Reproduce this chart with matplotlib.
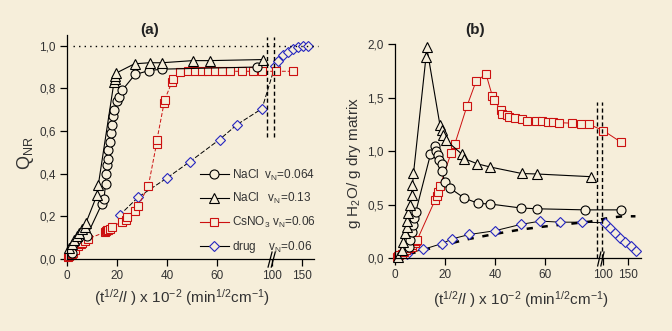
import numpy as np
import matplotlib
matplotlib.use('Agg')
import matplotlib.pyplot as plt
from matplotlib.ticker import FixedLocator, FuncFormatter
from matplotlib.lines import Line2D

plt.rcParams['font.family'] = ['Liberation Sans', 'DejaVu Sans']
plt.rcParams['mathtext.fontset'] = 'custom'
plt.rcParams['mathtext.rm'] = 'Liberation Sans'
plt.rcParams['mathtext.it'] = 'Liberation Sans:italic'
plt.rcParams['mathtext.bf'] = 'Liberation Sans:bold'

BG = '#F6EEDA'
RED = '#CC1010'
BLUE = '#2626C0'
TXT = '#333333'

# ---------------- panel (a) data ----------------
a_nacl064_x = [2, 8, 14.0, 14.8, 15.4, 15.6, 15.9, 16.2, 16.5, 17.0, 17.5, 18.0, 18.5, 18.9, 19.9, 20.7, 22.0, 27.2, 32.8, 37.8, 76]
a_nacl064_y = [0.03, 0.11, 0.26, 0.28, 0.35, 0.40, 0.44, 0.47, 0.51, 0.55, 0.59, 0.63, 0.67, 0.70, 0.74, 0.76, 0.79, 0.865, 0.883, 0.89, 0.90]

a_nacl13_x = [1, 2, 3, 4, 5, 6, 7, 7.6, 12.0, 12.5, 18.8, 19.0, 19.2, 19.4, 27, 33, 38, 50.3, 57, 78.5]
a_nacl13_y = [0.05, 0.07, 0.09, 0.11, 0.12, 0.14, 0.15, 0.17, 0.30, 0.345, 0.83, 0.845, 0.86, 0.87, 0.915, 0.92, 0.92, 0.93, 0.93, 0.935]

a_csno3_x = [0.6, 1.0, 1.5, 2.0, 2.5, 3.2, 4.5, 5.5, 6.0, 7.0, 8.5, 15.0, 15.5, 16.0, 16.3, 17.0, 18.0, 22.0, 23.5, 24.0, 27.0, 28.5,
             32.5, 35.8, 36.0, 38.8, 39.0, 42.0, 42.4, 45.0, 48.5, 51.0, 54.0, 56.5, 59.0, 62.0, 65.0, 70.0, 74.4, 78.0, 106.7, 135.0]
a_csno3_y = [0.01, 0.015, 0.02, 0.025, 0.03, 0.04, 0.06, 0.07, 0.075, 0.085, 0.095, 0.125, 0.13, 0.135, 0.135, 0.14, 0.15, 0.175, 0.185, 0.195, 0.225, 0.25,
             0.34, 0.54, 0.56, 0.73, 0.745, 0.83, 0.845, 0.875, 0.88, 0.88, 0.88, 0.88, 0.88, 0.88, 0.88, 0.88, 0.88, 0.88, 0.88, 0.88]

a_drug_x = [21, 28.5, 40, 49, 61, 68, 78, 105, 110, 118, 127, 135, 143, 152, 160]
a_drug_y = [0.205, 0.29, 0.38, 0.455, 0.56, 0.63, 0.705, 0.905, 0.93, 0.955, 0.97, 0.985, 0.995, 1.0, 1.0]

# ---------------- panel (b) data ----------------
b_nacl13_x = [1.0, 2.7, 3.3, 4.0, 4.7, 4.9, 5.3, 6.0, 6.7, 7.0, 7.4, 12.4, 12.7, 18.0, 18.7, 19.4, 20.4, 26.8, 27.6, 33, 38.2, 50.7, 57, 78.5]
b_nacl13_y = [0.01, 0.075, 0.15, 0.23, 0.29, 0.35, 0.42, 0.5, 0.59, 0.68, 0.79, 1.88, 1.97, 1.24, 1.2, 1.15, 1.1, 0.97, 0.93, 0.88, 0.85, 0.79, 0.785, 0.76]

b_nacl064_x = [5.5, 6.2, 6.8, 7.3, 7.8, 8.3, 14.2, 16.0, 16.5, 17.2, 17.8, 18.7, 18.7, 20.0, 22.2, 27.7, 33.4, 38, 50.5, 57, 76.2, 136.5]
b_nacl064_y = [0.1, 0.17, 0.24, 0.31, 0.37, 0.43, 0.97, 1.05, 1.0, 0.96, 0.92, 0.88, 0.81, 0.71, 0.65, 0.56, 0.51, 0.505, 0.467, 0.46, 0.45, 0.45]

b_csno3_x = [0.8, 1.3, 1.7, 2.7, 3.5, 4.4, 5.5, 6.7, 7.0, 8.0, 8.5, 8.8, 16.0, 16.7, 17.3, 18.0, 22.4, 24.0, 28.8, 32.4, 36.4, 39.0, 39.5,
             42.4, 42.8, 45.0, 45.6, 48.0, 50.7, 53.0, 56.5, 59.0, 61.3, 63.3, 65.5, 71.0, 74.4, 77.6, 101, 137]
b_csno3_y = [0.01, 0.02, 0.03, 0.04, 0.06, 0.075, 0.09, 0.1, 0.12, 0.14, 0.155, 0.165, 0.54, 0.58, 0.62, 0.67, 0.98, 1.07, 1.42, 1.65, 1.72, 1.51, 1.48,
             1.38, 1.35, 1.34, 1.32, 1.31, 1.30, 1.28, 1.28, 1.28, 1.27, 1.27, 1.265, 1.26, 1.25, 1.25, 1.19, 1.08]

b_drug_x = [4.7, 11.2, 18.8, 23, 29.8, 40, 50.5, 58.2, 66, 74.8, 105, 115, 125, 135, 145, 156, 166]
b_drug_y = [0.04, 0.08, 0.135, 0.18, 0.22, 0.255, 0.315, 0.345, 0.335, 0.335, 0.33, 0.28, 0.23, 0.19, 0.15, 0.11, 0.07]

b_fit_x = [0, 10, 20, 30, 40, 50, 60, 70, 78, 100, 120, 140, 165]
b_fit_y = [0, 0.065, 0.125, 0.18, 0.225, 0.265, 0.295, 0.32, 0.34, 0.365, 0.38, 0.39, 0.39]

xtick_vals = [0, 20, 40, 60, 100, 150]
a_yticks = [0.0, 0.2, 0.4, 0.6, 0.8, 1.0]
b_yticks = [0.0, 0.5, 1.0, 1.5, 2.0]

legend_labels = [r'NaCl  v$_{\mathrm{N}}$=0.064', r'NaCl   v$_{\mathrm{N}}$=0.13',
                 r'CsNO$_{\mathrm{3}}$ v$_{\mathrm{N}}$=0.06', r'drug    v$_{\mathrm{N}}$=0.06']

xlabel = r'(t$^{\mathrm{1/2}}$/$\it{l}$ ) x 10$^{\mathrm{-2}}$ (min$^{\mathrm{1/2}}$cm$^{\mathrm{-1}}$)'


def make_scale(lo, hi, u_hi, slope):
    XP = np.array([-1000.0, 0.0, lo, hi, 1000.0])
    UP = np.array([-1000.0, 0.0, lo, u_hi, u_hi + slope * (1000.0 - hi)])
    return (lambda x: np.interp(x, XP, UP)), (lambda u: np.interp(u, UP, XP))


comma = FuncFormatter(lambda v, p: f"{v:.1f}".replace('.', ','))

fig = plt.figure(figsize=(6.72, 3.31), dpi=100, facecolor=BG)
axA = fig.add_axes([0.0997, 0.2175, 0.3676, 0.6767])
axB = fig.add_axes([0.5878, 0.2205, 0.366, 0.6465])

for ax, scl, xmax, ylim, yt in [(axA, make_scale(80, 100, 82, 0.24), 170, (0, 1.05), a_yticks),
                                (axB, make_scale(80, 100, 83.2, 0.2), 176, (0, 2.0), b_yticks)]:
    ax.set_facecolor('none')
    ax.set_xscale('function', functions=scl)
    ax.set_xlim(0, xmax)
    ax.set_ylim(*ylim)
    for s in ['top', 'right']:
        ax.spines[s].set_visible(False)
    for s in ['left', 'bottom']:
        ax.spines[s].set_linewidth(0.9)
    ax.xaxis.set_major_locator(FixedLocator(xtick_vals))
    ax.xaxis.set_minor_locator(FixedLocator([]))
    ax.xaxis.set_major_formatter(FuncFormatter(lambda v, p: f"{v:.0f}"))
    ax.yaxis.set_major_locator(FixedLocator(yt))
    ax.yaxis.set_major_formatter(comma)
    ax.tick_params(direction='out', length=5, width=0.9, labelsize=8.5, labelcolor=TXT, pad=3)

ms = dict(mfc=BG, mew=0.8)

# ---- panel (a) ----
axA.plot(a_drug_x, a_drug_y, '-', color='k', lw=0.7, ls=(0, (5, 2)), marker='D', ms=5.5, mec=BLUE, clip_on=False, **ms)
axA.plot(a_csno3_x, a_csno3_y, color=RED, lw=0.7, ls=(0, (4, 2)), marker='s', ms=6, mec=RED, clip_on=False, **ms)
axA.plot(a_nacl064_x, a_nacl064_y, '-', color='k', lw=0.8, marker='o', ms=6.5, mec='k', clip_on=False, **ms)
axA.plot(a_nacl13_x, a_nacl13_y, '-', color='k', lw=0.8, marker='^', ms=7, mec='k', clip_on=False, **ms)

axA.axhline(1.0, xmin=0.024, xmax=1.016, color='k', lw=1.0, ls=(0, (1, 3)), clip_on=False)
axA.vlines([80, 103], 0.57, 1.04, colors='k', lw=1.0, linestyles=(0, (3, 2)))

handles = [Line2D([], [], color='k', lw=0.8, marker='o', ms=6.5, mec='k', **ms),
           Line2D([], [], color='k', lw=0.8, marker='^', ms=7, mec='k', **ms),
           Line2D([], [], color=RED, lw=0.8, marker='s', ms=6, mec=RED, **ms),
           Line2D([], [], color='k', lw=0.8, marker='D', ms=5.5, mec=BLUE, **ms)]
leg = axA.legend(handles, legend_labels, loc='upper left', bbox_to_anchor=(0.52, 0.43), frameon=False,
                 fontsize=8.5, handlelength=2.4, handletextpad=0.3, labelspacing=0.75, borderaxespad=0)
for t in leg.get_texts():
    t.set_color(TXT)

axA.set_xlabel(xlabel, fontsize=11, color=TXT, va='center')
axA.xaxis.set_label_coords(0.466, -0.174)
axA.set_ylabel(r'Q$_{\mathrm{NR}}$', fontsize=13, color=TXT, va='center')
axA.yaxis.set_label_coords(-0.17, 0.473)
axA.text(0.336, 1.022, '(a)', transform=axA.transAxes, ha='center', va='center', fontsize=11, fontweight='bold', color='#222222')

# break marks (a)
for dx in (0.0, 0.013):
    axA.plot([0.814 + dx, 0.830 + dx], [-0.036, 0.031], transform=axA.transAxes, color='k', lw=0.9, clip_on=False)

# ---- panel (b) ----
axB.plot(b_fit_x, b_fit_y, color='k', lw=1.8, ls=(0, (2.5, 3.5)), clip_on=False)
axB.plot(b_drug_x, b_drug_y, '-', color='k', lw=0.7, marker='D', ms=5.5, mec=BLUE, clip_on=False, **ms)
axB.plot(b_csno3_x, b_csno3_y, '-', color=RED, lw=0.7, marker='s', ms=6, mec=RED, clip_on=False, **ms)
axB.plot(b_nacl064_x, b_nacl064_y, '-', color='k', lw=0.8, marker='o', ms=6.5, mec='k', clip_on=False, **ms)
axB.plot(b_nacl13_x, b_nacl13_y, '-', color='k', lw=0.8, marker='^', ms=7, mec='k', clip_on=False, **ms)

axB.vlines([85, 97], 0, 1.46, colors='k', lw=1.0, linestyles=(0, (3, 2)))

axB.set_xlabel(xlabel, fontsize=11, color=TXT, va='center')
axB.xaxis.set_label_coords(0.512, -0.196)
axB.set_ylabel(r'g H$_{\mathrm{2}}$O/ g dry matrix', fontsize=11, color=TXT, va='center')
axB.yaxis.set_label_coords(-0.167, 0.444)
axB.text(0.325, 1.065, '(b)', transform=axB.transAxes, ha='center', va='center', fontsize=11, fontweight='bold', color='#222222')

for dx in (0.0, 0.013):
    axB.plot([0.824 + dx, 0.837 + dx], [-0.037, 0.028], transform=axB.transAxes, color='k', lw=0.9, clip_on=False)

fig.savefig('out.png', dpi=100, facecolor=BG)
